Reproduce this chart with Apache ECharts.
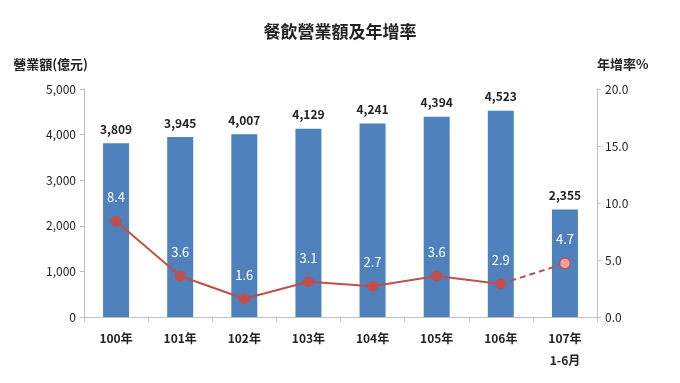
<!DOCTYPE html>
<html><head><meta charset="utf-8">
<script src="https://cdn.jsdelivr.net/npm/echarts@6/dist/echarts.min.js"></script>
<style>html,body{margin:0;padding:0;background:#fff}#c{width:680px;height:383px}</style>
</head><body><div id="c"></div>
<script>
const categories = ['100年','101年','102年','103年','104年','105年','106年','107年\n1-6月'];
const revenue = [3809, 3945, 4007, 4129, 4241, 4394, 4523, 2355];
const growth = [8.4, 3.6, 1.6, 3.1, 2.7, 3.6, 2.9, 4.7];
const leftTicks = {min: 0, max: 5000, interval: 1000};
const rightTicks = {min: 0, max: 20, interval: 5};

const solidGrowth = growth.map((v, i) => i < growth.length - 1 ? v : null);
const dashedGrowth = growth.map((v, i) => i >= growth.length - 2 ? v : null);
const font = '"Noto Sans CJK TC", "Noto Sans", sans-serif';
const chart = echarts.init(document.getElementById('c'));
chart.setOption({
  animation: false,
  textStyle: {fontFamily: font},
  title: {text: '餐飲營業額及年增率', left: 'center', top: 18,
    textStyle: {fontSize: 17, fontWeight: 'bold', color: '#222', fontFamily: font}},
  grid: {left: 84, right: 83, top: 89, bottom: 66},
  xAxis: {type: 'category', data: categories,
    axisLine: {lineStyle: {color: '#bfbfbf'}},
    axisTick: {show: true, alignWithLabel: false, length: 5, lineStyle: {color: '#bfbfbf'}},
    axisLabel: {color: '#222', fontSize: 12, lineHeight: 22, margin: 10, fontWeight: 'bold'}},
  yAxis: [
    {type: 'value', min: leftTicks.min, max: leftTicks.max, interval: leftTicks.interval,
      name: '營業額(億元)', nameLocation: 'end', nameGap: 18,
      nameTextStyle: {color: '#222', fontSize: 13, fontWeight: 'bold', align: 'right', padding: [0, -4, 0, 0]},
      axisLine: {show: true, lineStyle: {color: '#bfbfbf'}},
      axisTick: {show: true, length: 4, lineStyle: {color: '#bfbfbf'}},
      splitLine: {show: false},
      axisLabel: {color: '#222', fontSize: 12, margin: 8, formatter: v => v.toLocaleString('en-US')}},
    {type: 'value', min: rightTicks.min, max: rightTicks.max, interval: rightTicks.interval,
      name: '年增率%', nameLocation: 'end', nameGap: 18,
      nameTextStyle: {color: '#222', fontSize: 13, fontWeight: 'bold', align: 'left', padding: [0, 0, 0, 0]},
      axisLine: {show: true, lineStyle: {color: '#bfbfbf'}},
      axisTick: {show: true, length: 4, lineStyle: {color: '#bfbfbf'}},
      splitLine: {show: false},
      axisLabel: {color: '#222', fontSize: 12, margin: 8, formatter: v => v.toFixed(1)}}
  ],
  series: [
    {type: 'bar', data: revenue, barWidth: 26, yAxisIndex: 0,
      itemStyle: {color: '#4f81bd'},
      label: {show: true, position: 'top', color: '#222', fontSize: 12, fontWeight: 'bold',
        distance: 8, formatter: p => p.value.toLocaleString('en-US')}},
    {type: 'line', data: solidGrowth, yAxisIndex: 1, symbol: 'circle', symbolSize: 11,
      lineStyle: {color: '#c0504d', width: 2}, itemStyle: {color: '#c0504d'}, z: 5,
      label: {show: true, position: 'top', distance: 12, color: '#fff', fontSize: 13, formatter: p => p.value.toFixed(1)}},
    {type: 'line', data: dashedGrowth.map((v, i) => i === growth.length - 1 ? {value: v} : {value: v, symbol: 'none'}),
      yAxisIndex: 1, symbol: 'circle', symbolSize: 11,
      lineStyle: {color: '#c0504d', width: 2, type: [6, 4]},
      itemStyle: {color: '#e8a3a3', borderColor: '#c0504d', borderWidth: 1.5}, z: 4,
      label: {show: true, position: 'top', distance: 12, color: '#fff', fontSize: 13,
        formatter: p => p.dataIndex === growth.length - 1 ? p.value.toFixed(1) : ''}}
  ]
});
</script></body></html>
